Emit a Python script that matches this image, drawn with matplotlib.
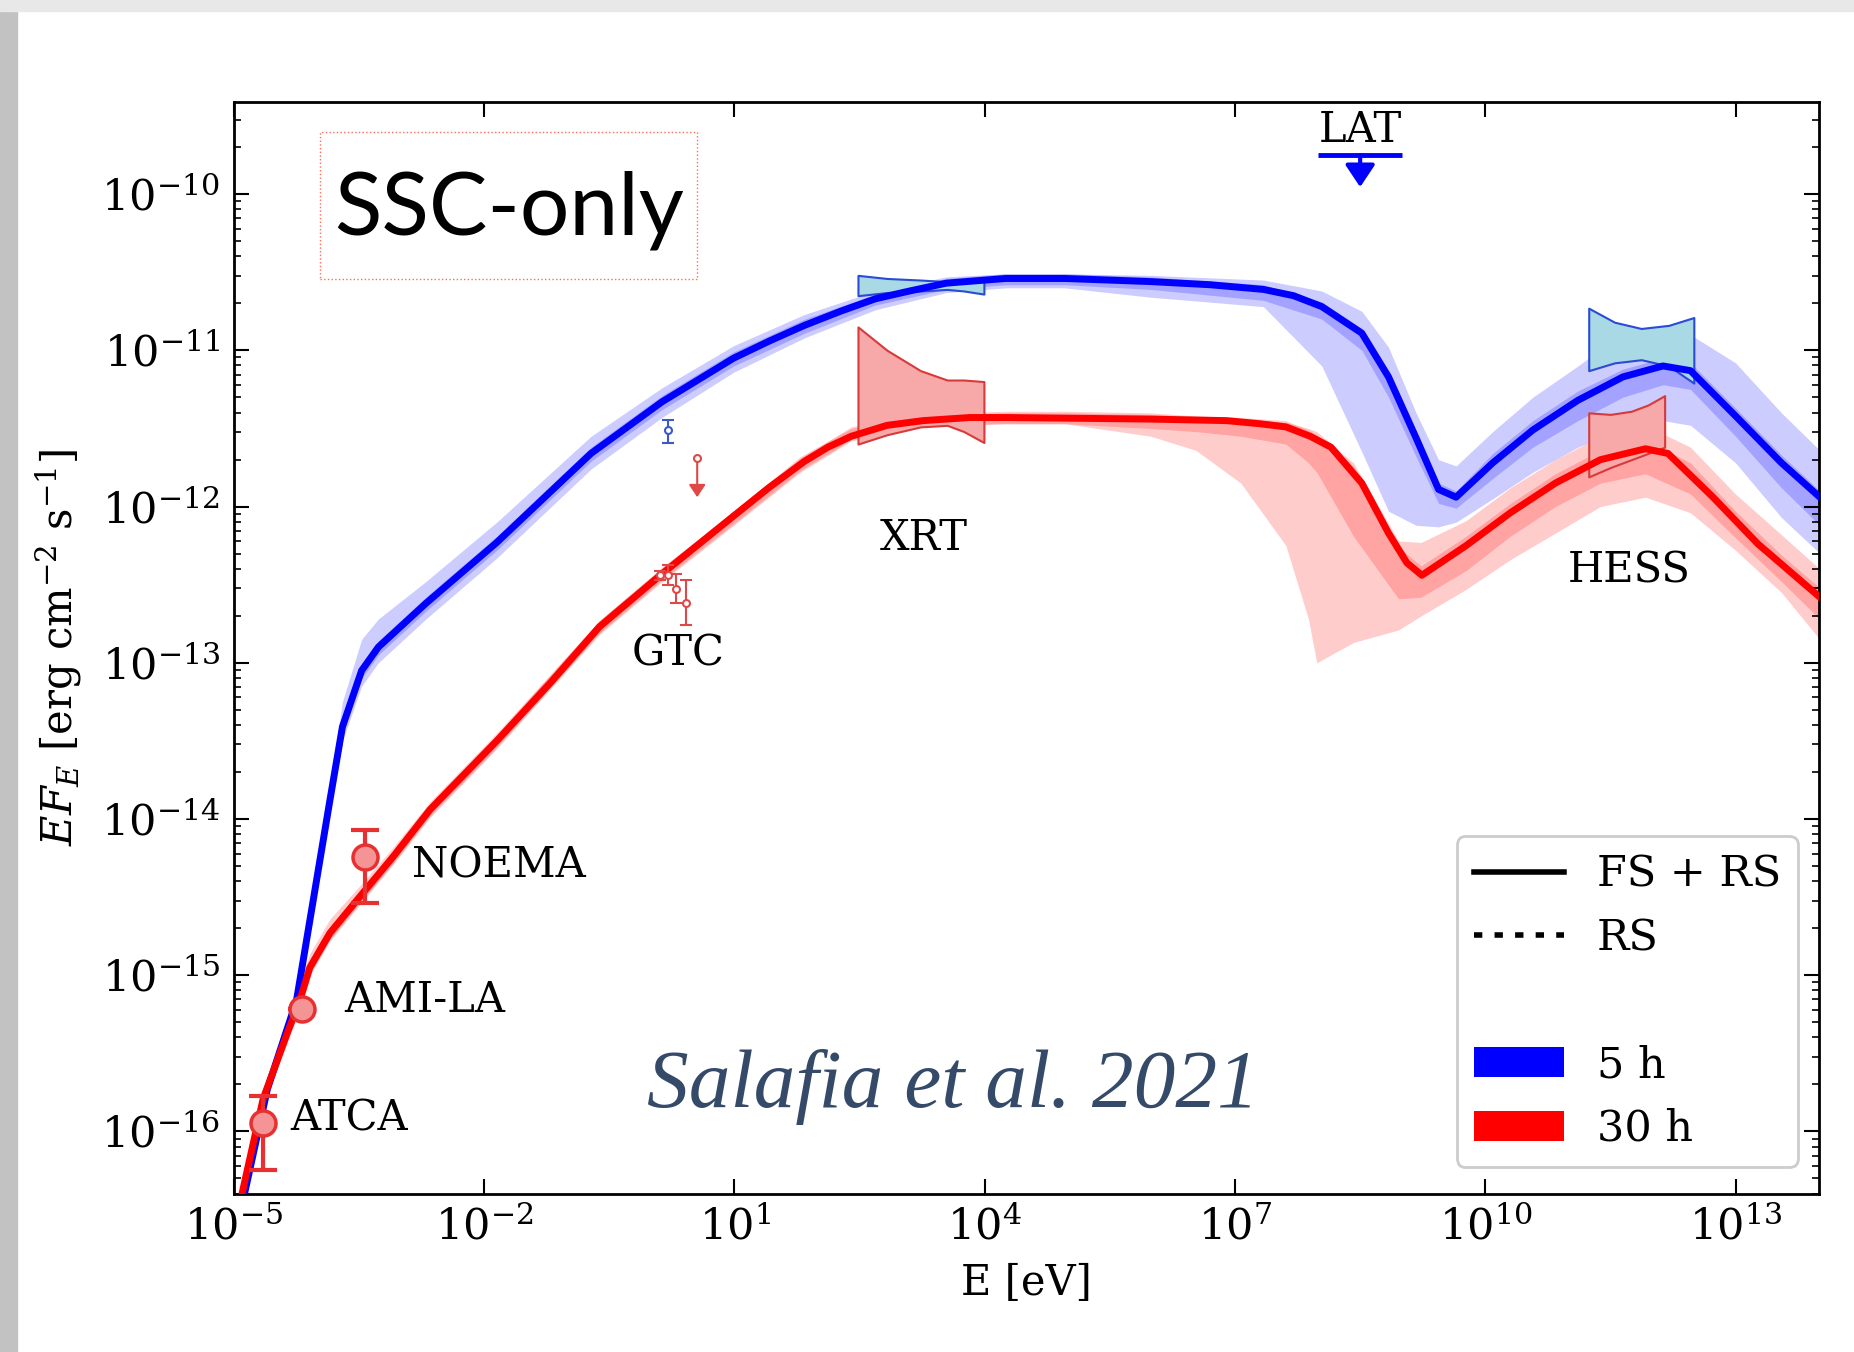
import numpy as np
import matplotlib.pyplot as plt
from matplotlib.lines import Line2D
from matplotlib.patches import Patch, Rectangle
from matplotlib.ticker import LogLocator, NullLocator, NullFormatter

plt.rcParams['font.family'] = 'DejaVu Serif'
plt.rcParams['mathtext.fontset'] = 'dejavuserif'

# all values are log10(E / eV) and log10(E F_E / erg cm^-2 s^-1)

# 5 h model (FS + RS)
blue_logE = [-4.87, -4.60, -4.25, -3.85, -3.70, -3.47, -3.27, -2.70, -1.85, -0.72,
             0.13, 0.99, 1.42, 1.84, 2.27, 2.69, 3.10, 3.54, 4.25, 4.96,
             5.99, 6.70, 7.34, 7.70, 8.04, 8.52, 8.84, 9.17, 9.44, 9.65,
             10.09, 10.57, 11.11, 11.65, 12.13, 12.46, 13.00, 13.55, 14.01]
blue_logF = [-16.39, -15.73, -15.16, -13.88, -13.41, -13.05, -12.90, -12.62, -12.23, -11.66,
             -11.33, -11.05, -10.94, -10.84, -10.75, -10.67, -10.62, -10.57, -10.54, -10.54,
             -10.56, -10.58, -10.61, -10.65, -10.72, -10.89, -11.17, -11.56, -11.89, -11.94,
             -11.72, -11.51, -11.32, -11.17, -11.10, -11.13, -11.42, -11.72, -11.94]
blue_band_logE = [-4.87, -4.60, -4.25, -3.85, -3.70, -3.47, -3.27, -2.70, -1.85, -0.72, 0.13, 0.99,
                  1.84, 2.69, 3.54, 4.25, 4.96, 5.99, 7.34, 8.04, 8.52, 8.84, 9.17, 9.44, 9.65,
                  10.09, 10.57, 11.11, 11.65, 12.13, 12.46, 13.00, 13.55, 14.01]
blue_wide_lo = [-16.43, -15.77, -15.20, -13.95, -13.50, -13.15, -13.00, -12.72, -12.33, -11.76, -11.43, -11.14,
                -10.92, -10.74, -10.63, -10.60, -10.60, -10.66, -10.72, -11.10, -11.65, -12.03, -12.12, -12.13, -12.10,
                -11.95, -11.78, -11.62, -11.50, -11.45, -11.48, -11.72, -12.07, -12.30]
blue_wide_hi = [-16.35, -15.69, -15.12, -13.80, -13.25, -12.85, -12.72, -12.48, -12.10, -11.55, -11.24, -10.97,
                -10.77, -10.62, -10.53, -10.51, -10.51, -10.52, -10.55, -10.62, -10.75, -10.98, -11.40, -11.70, -11.74,
                -11.52, -11.30, -11.10, -10.89, -10.86, -10.90, -11.08, -11.40, -11.64]
blue_core_lo = [-16.43, -15.77, -15.20, -13.93, -13.46, -13.10, -12.95, -12.67, -12.28, -11.71, -11.38, -11.10,
                -10.89, -10.71, -10.61, -10.58, -10.58, -10.61, -10.68, -10.80, -11.00, -11.30, -11.68, -11.98, -12.01,
                -11.82, -11.62, -11.45, -11.30, -11.22, -11.25, -11.55, -11.88, -12.12]
blue_core_hi = [-16.35, -15.69, -15.12, -13.84, -13.37, -13.01, -12.86, -12.58, -12.19, -11.62, -11.29, -11.01,
                -10.80, -10.64, -10.54, -10.51, -10.51, -10.53, -10.58, -10.69, -10.86, -11.14, -11.52, -11.85, -11.90,
                -11.66, -11.45, -11.26, -11.12, -11.05, -11.08, -11.37, -11.67, -11.90]

# 30 h model (FS + RS)
red_logE = [-4.90, -4.65, -4.36, -4.21, -4.09, -3.85, -3.48, -3.09, -2.65, -1.85,
            -1.21, -0.62, 0.11, 0.99, 1.41, 1.84, 2.12, 2.40, 2.83, 3.26,
            3.82, 4.25, 5.99, 6.90, 7.30, 7.61, 7.90, 8.15, 8.52, 8.84,
            9.06, 9.24, 9.77, 10.30, 10.84, 11.38, 11.92, 12.19, 12.73, 13.27, 14.01]
red_logF = [-16.39, -15.79, -15.37, -15.16, -14.95, -14.73, -14.49, -14.24, -13.94, -13.50,
            -13.13, -12.77, -12.44, -12.06, -11.88, -11.71, -11.62, -11.55, -11.48, -11.45,
            -11.43, -11.43, -11.44, -11.45, -11.47, -11.49, -11.55, -11.62, -11.85, -12.17,
            -12.36, -12.44, -12.25, -12.04, -11.85, -11.70, -11.63, -11.66, -11.94, -12.24, -12.58]
red_band_logE = [-4.90, -4.65, -4.36, -4.21, -4.09, -3.85, -3.48, -3.09, -2.65, -1.85, -0.62, 0.11, 0.99,
                 1.79, 2.40, 2.97, 3.54, 4.25, 4.96, 5.99, 6.53, 7.07, 7.61, 7.88, 7.98, 8.42, 8.96,
                 9.23, 9.77, 10.30, 10.84, 11.38, 11.92, 12.46, 13.00, 13.55, 14.01]
red_wide_lo = [-16.45, -15.85, -15.42, -15.21, -15.00, -14.78, -14.54, -14.29, -13.99, -13.55, -12.82, -12.49, -12.12,
               -11.78, -11.58, -11.50, -11.48, -11.47, -11.47, -11.55, -11.64, -11.85, -12.25, -12.72, -13.00, -12.87, -12.79,
               -12.70, -12.53, -12.34, -12.17, -12.00, -11.94, -12.04, -12.28, -12.55, -12.85]
red_wide_hi = [-16.33, -15.73, -15.28, -15.05, -14.86, -14.64, -14.42, -14.18, -13.89, -13.45, -12.73, -12.40, -12.03,
               -11.68, -11.50, -11.43, -11.41, -11.40, -11.40, -11.41, -11.43, -11.44, -11.46, -11.50, -11.52, -11.72, -12.22,
               -12.23, -12.09, -11.88, -11.70, -11.55, -11.48, -11.62, -11.92, -12.18, -12.40]
red_core_lo = [-16.43, -15.83, -15.41, -15.20, -14.99, -14.77, -14.53, -14.28, -13.98, -13.54, -12.81, -12.48, -12.11,
               -11.77, -11.57, -11.50, -11.48, -11.47, -11.47, -11.50, -11.52, -11.55, -11.60, -11.72, -11.78, -12.19, -12.59,
               -12.58, -12.41, -12.19, -12.00, -11.85, -11.79, -11.92, -12.20, -12.48, -12.72]
red_core_hi = [-16.35, -15.75, -15.33, -15.12, -14.91, -14.69, -14.45, -14.20, -13.90, -13.46, -12.73, -12.40, -12.03,
               -11.69, -11.49, -11.42, -11.40, -11.39, -11.39, -11.40, -11.42, -11.43, -11.45, -11.51, -11.54, -11.74, -12.26,
               -12.38, -12.19, -11.98, -11.79, -11.64, -11.57, -11.72, -12.03, -12.31, -12.52]

# XRT and HESS butterflies
xrt_logE = [2.48, 2.83, 3.23, 3.55, 3.75, 3.99]
xrt_blue_lo = [-10.65, -10.63, -10.62, -10.61, -10.62, -10.64]
xrt_blue_hi = [-10.52, -10.54, -10.55, -10.56, -10.55, -10.54]
xrt_red_lo = [-11.60, -11.54, -11.49, -11.48, -11.52, -11.59]
xrt_red_hi = [-10.85, -11.00, -11.13, -11.19, -11.19, -11.20]
hess_blue_logE = [11.24, 11.55, 11.87, 12.20, 12.50]
hess_blue_lo = [-11.13, -11.08, -11.06, -11.10, -11.21]
hess_blue_hi = [-10.73, -10.82, -10.86, -10.84, -10.79]
hess_red_logE = [11.24, 11.50, 11.75, 11.95, 12.15]
hess_red_lo = [-11.81, -11.75, -11.70, -11.66, -11.62]
hess_red_hi = [-11.40, -11.41, -11.39, -11.35, -11.29]

# radio / mm points (30 h)
radio_names = ['ATCA', 'AMI-LA', 'NOEMA']
radio_logE = [-4.65, -4.19, -3.43]
radio_logF = [-15.946, -15.216, -14.245]
radio_lo = [-16.244, -15.216, -14.54]
radio_hi = [-15.775, -15.216, -14.07]

# GTC optical
gtc_red_logE = [0.109, 0.206, 0.300, 0.421]
gtc_red_logF = [-12.438, -12.438, -12.527, -12.617]
gtc_red_lo = [-12.47, -12.504, -12.62, -12.76]
gtc_red_hi = [-12.41, -12.375, -12.43, -12.47]
gtc_blue_logE = [0.206]
gtc_blue_logF = [-11.51]
gtc_blue_lo = [-11.59]
gtc_blue_hi = [-11.445]
gtc_ul_logE = 0.553
gtc_ul_logF = [-11.69, -11.94]

# LAT upper limit
lat_logE = [8.0, 9.0]
lat_logF = [-9.75, -9.955]

# instrument labels
label_names = ['ATCA', 'AMI-LA', 'NOEMA', 'GTC', 'XRT', 'HESS', 'LAT']
label_logE = [-4.32, -3.68, -2.87, 0.32, 3.27, 11.72, 8.5]
label_logF = [-15.915, -15.16, -14.30, -12.94, -12.20, -12.41, -9.59]
label_ha = ['left', 'left', 'left', 'center', 'center', 'center', 'center']


def p(v):
    return 10 ** np.asarray(v, dtype=float)


fig = plt.figure(figsize=(18.54, 13.52), dpi=100)
# screenshot shadow on the left and top
fig.add_artist(Rectangle((0, 0), 17 / 1854, 1, transform=fig.transFigure, color='#c2c2c2', zorder=-5))
fig.add_artist(Rectangle((0, 1 - 11 / 1352), 1, 11 / 1352, transform=fig.transFigure, color='#e8e8e8', zorder=-5))

ax = fig.add_axes([0.1262, 0.1169, 0.8549, 0.8077])

blue = '#0000ff'
red = '#ff0000'

ax.fill_between(p(blue_band_logE), p(blue_wide_lo), p(blue_wide_hi), color=blue, alpha=0.2, lw=0)
ax.fill_between(p(blue_band_logE), p(blue_core_lo), p(blue_core_hi), color=blue, alpha=0.2, lw=0)
ax.fill_between(p(red_band_logE), p(red_wide_lo), p(red_wide_hi), color=red, alpha=0.2, lw=0)
ax.fill_between(p(red_band_logE), p(red_core_lo), p(red_core_hi), color=red, alpha=0.2, lw=0)

# butterflies
ax.fill_between(p(xrt_logE), p(xrt_blue_lo), p(xrt_blue_hi), facecolor='#a9d9e4', edgecolor='#2a4ad8', lw=1.5, zorder=2)
ax.fill_between(p(xrt_logE), p(xrt_red_lo), p(xrt_red_hi), facecolor='#f7a9a9', edgecolor='#d83a3a', lw=1.5, zorder=2)
ax.fill_between(p(hess_blue_logE), p(hess_blue_lo), p(hess_blue_hi), facecolor='#a9d9e4', edgecolor='#2a4ad8', lw=1.5, zorder=2)
ax.fill_between(p(hess_red_logE), p(hess_red_lo), p(hess_red_hi), facecolor='#f7a9a9', edgecolor='#d83a3a', lw=1.5, zorder=2)

ax.plot(p(blue_logE), p(blue_logF), color=blue, lw=5, zorder=3, solid_joinstyle='round')
ax.plot(p(red_logE), p(red_logF), color=red, lw=5, zorder=3, solid_joinstyle='round')

# radio points
rF = p(radio_logF)
ax.errorbar(p(radio_logE), rF, yerr=[rF - p(radio_lo), p(radio_hi) - rF], fmt='none',
            ecolor='#e83030', elinewidth=3, capsize=10, capthick=3, zorder=4)
ax.plot(p(radio_logE), rF, 'o', ms=18, mfc='#f49494', mec='#e83030', mew=2.5, zorder=5)

# GTC
gF = p(gtc_red_logF)
ax.errorbar(p(gtc_red_logE), gF, yerr=[gF - p(gtc_red_lo), p(gtc_red_hi) - gF], fmt='o', ms=5,
            mfc='white', mec='#e04848', mew=1.5, ecolor='#e04848', elinewidth=1.5, capsize=4, zorder=4)
bF = p(gtc_blue_logF)
ax.errorbar(p(gtc_blue_logE), bF, yerr=[bF - p(gtc_blue_lo), p(gtc_blue_hi) - bF], fmt='o', ms=5,
            mfc='white', mec='#3a58c8', mew=1.5, ecolor='#3a58c8', elinewidth=1.5, capsize=4, zorder=4)
ax.annotate('', xy=(p(gtc_ul_logE), p(gtc_ul_logF[1])), xytext=(p(gtc_ul_logE), p(gtc_ul_logF[0])),
            arrowprops=dict(arrowstyle='-|>,head_length=0.3,head_width=0.2', color='#e04848', lw=1.5,
                            mutation_scale=25, shrinkA=0, shrinkB=0), zorder=4)
ax.plot([p(gtc_ul_logE)], [p(gtc_ul_logF[0])], 'o', ms=5, mfc='white', mec='#e04848', mew=1.5, zorder=5)

# LAT upper limit
ax.plot(p(lat_logE), p([lat_logF[0], lat_logF[0]]), color=blue, lw=3.5, solid_capstyle='butt', zorder=4)
lat_mid = p(np.mean(lat_logE))
ax.annotate('', xy=(lat_mid, p(lat_logF[1])), xytext=(lat_mid, p(lat_logF[0])),
            arrowprops=dict(arrowstyle='-|>,head_length=0.3,head_width=0.2', color=blue, lw=3,
                            mutation_scale=45, shrinkA=0, shrinkB=0), zorder=4)

for name, le, lf, ha in zip(label_names, label_logE, label_logF, label_ha):
    ax.text(p(le), p(lf), name, ha=ha, va='center', fontsize=30, zorder=6)

ax.set_xscale('log')
ax.set_yscale('log')
ax.set_xlim(1e-5, 1e14)
ax.set_ylim(p(-16.40), p(-9.41))
ax.set_xticks(p([-5, -2, 1, 4, 7, 10, 13]))
ax.xaxis.set_minor_locator(NullLocator())
ax.yaxis.set_major_locator(LogLocator(base=10, numticks=20))
ax.yaxis.set_minor_locator(LogLocator(base=10, subs=np.arange(2, 10), numticks=200))
ax.yaxis.set_minor_formatter(NullFormatter())
ax.tick_params(which='both', direction='in', top=True, right=True, labelsize=31)
ax.tick_params(which='major', length=11, width=1.5)
ax.tick_params(which='minor', length=5, width=1.2)
ax.tick_params(axis='x', pad=9)
ax.tick_params(axis='y', pad=10)
for s in ax.spines.values():
    s.set_linewidth(2)

ax.set_xlabel('E [eV]', fontsize=30, labelpad=10)
ax.set_ylabel(r'$EF_E$ [erg cm$^{-2}$ s$^{-1}$]', fontsize=30, labelpad=12)

handles = [Line2D([], [], color='k', lw=4),
           Line2D([], [], color='k', lw=4, ls=(0, (1.5, 2.2))),
           Line2D([], [], color='none'),
           Patch(facecolor=blue, edgecolor='none'),
           Patch(facecolor=red, edgecolor='none')]
labels = ['FS + RS', 'RS', ' ', '5 h', '30 h']
leg = ax.legend(handles, labels, loc='lower right', bbox_to_anchor=(0.9868, 0.0247), borderaxespad=0,
                fontsize=31, handlelength=2.1, handletextpad=0.75, borderpad=0.4, labelspacing=0.5,
                fancybox=True, framealpha=1)
leg.get_frame().set_edgecolor('#cccccc')
leg.get_frame().set_linewidth(2)

# annotation boxes on top of the figure
fig.add_artist(Rectangle((320 / 1854, 1 - 279 / 1352), 377 / 1854, 147 / 1352, transform=fig.transFigure,
                         fill=False, edgecolor='#ff6a5a', lw=1, ls=':', zorder=5))
fig.text(509 / 1854, 1 - 235 / 1352, 'SSC-only', family='Lato', fontsize=63, ha='center', va='baseline')
fig.text(647 / 1854, 1 - 1107 / 1352, 'Salafia et al. 2021', family='Liberation Serif', style='italic',
         fontsize=60, color='#344a68', ha='left', va='baseline')

fig.savefig('out.png', dpi=100)
